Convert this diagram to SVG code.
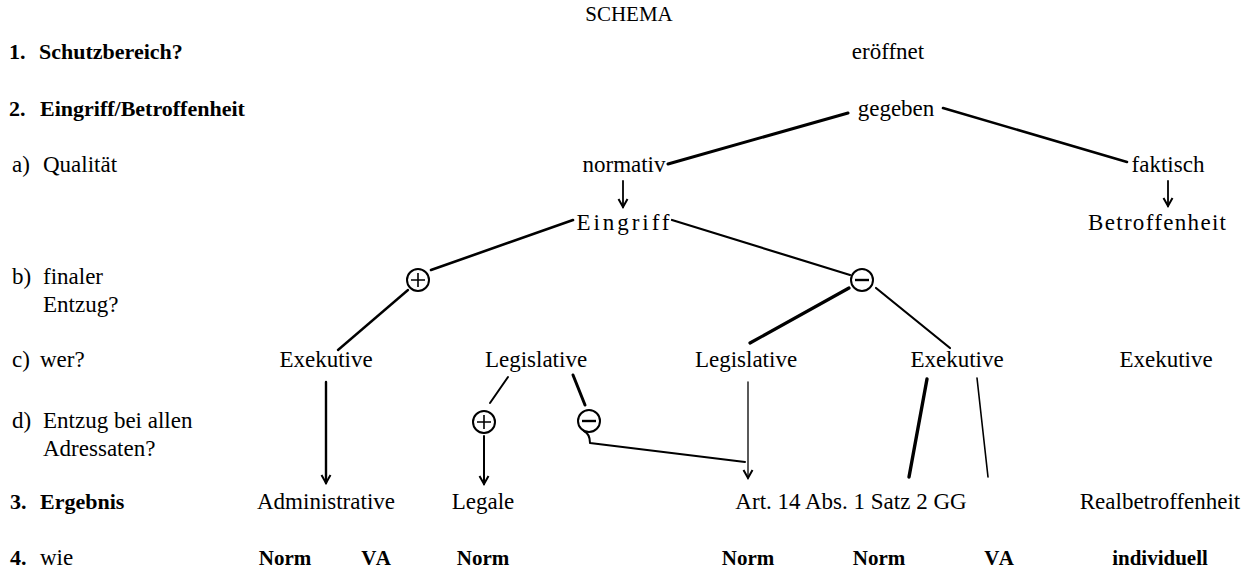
<svg xmlns="http://www.w3.org/2000/svg" width="1259" height="569" viewBox="0 0 1259 569">
<style>
text{font-family:"Liberation Serif","Times New Roman",serif;fill:#000;font-size:23px}
.b{font-weight:bold;font-size:22px}
.m{text-anchor:middle}
.w{font-weight:bold;font-size:21px}
.c{fill:#fff;stroke:#000;stroke-width:2}
.s{stroke:#000;stroke-width:1.6;fill:none}
#connectors path,#connectors line{stroke:#000;fill:none;stroke-linecap:round}
</style>
<defs>
<marker id="ah" viewBox="-10 -6 12 12" refX="0" refY="0" markerWidth="12" markerHeight="12" orient="auto" markerUnits="userSpaceOnUse">
<path d="M-8,-4.5 L0,0 L-8,4.5" fill="none" stroke="#000" stroke-width="2"/>
</marker>
</defs>
<rect width="1259" height="569" fill="#fff"/>
<g id="title"><text class="m" x="629" y="21" style="font-size:21px">SCHEMA</text></g>
<g id="labels">
<text class="b" x="9" y="59">1.</text><text class="b" x="39" y="59">Schutzbereich?</text>
<text class="b" x="9" y="116">2.</text><text class="b" x="40" y="116">Eingriff/Betroffenheit</text>
<text x="12" y="172">a)</text><text x="43" y="172">Qualität</text>
<text x="12" y="284">b)</text><text x="43" y="284">finaler</text>
<text x="43" y="312">Entzug?</text>
<text x="12" y="367">c)</text><text x="40" y="367">wer?</text>
<text x="12" y="428">d)</text><text x="43" y="428">Entzug bei allen</text>
<text x="43" y="456">Adressaten?</text>
<text class="b" x="10" y="509">3.</text><text class="b" x="40" y="509">Ergebnis</text>
<text class="b" x="10" y="565">4.</text><text x="40" y="565">wie</text>
</g>
<g id="connectors">
<line x1="848" y1="113" x2="668" y2="164" stroke-width="3"/>
<line x1="943" y1="108" x2="1127" y2="162" stroke-width="2.6"/>
<line x1="623" y1="181" x2="623" y2="207" stroke-width="1.8" marker-end="url(#ah)"/>
<line x1="1168" y1="181" x2="1168" y2="206" stroke-width="1.8" marker-end="url(#ah)"/>
<line x1="573" y1="220" x2="431" y2="270" stroke-width="2.6"/>
<line x1="672" y1="220" x2="850" y2="275" stroke-width="2.2"/>
<line x1="408" y1="290" x2="338" y2="350" stroke-width="2.4"/>
<line x1="849" y1="288" x2="750" y2="343" stroke-width="3.2"/>
<line x1="876" y1="288" x2="950" y2="348" stroke-width="2.2"/>
<line x1="326" y1="382" x2="326" y2="483" stroke-width="2.4" marker-end="url(#ah)"/>
<line x1="508" y1="377" x2="490" y2="403" stroke-width="2"/>
<line x1="573" y1="375" x2="585" y2="405" stroke-width="3"/>
<line x1="484" y1="436" x2="484" y2="484" stroke-width="2" marker-end="url(#ah)"/>
<path d="M584,431 Q590,434 590,443 M590,443 L745,462" stroke-width="2"/>
<line x1="748" y1="382" x2="748" y2="478" stroke-width="1.3" marker-end="url(#ah)"/>
<line x1="927" y1="379" x2="909" y2="477" stroke-width="3.4"/>
<line x1="977" y1="378" x2="988" y2="477" stroke-width="1.6"/>
</g>
<g id="n-eroeffnet"><text class="m" x="888" y="59">eröffnet</text></g>
<g id="n-gegeben"><text class="m" x="896" y="116">gegeben</text></g>
<g id="n-normativ"><text class="m" x="624" y="172">normativ</text></g>
<g id="n-faktisch"><text class="m" x="1168" y="172">faktisch</text></g>
<g id="n-eingriff"><text class="m" x="623" y="230" textLength="93" lengthAdjust="spacing">Eingriff</text></g>
<g id="n-betroffenheit"><text class="m" x="1157" y="230" textLength="138" lengthAdjust="spacing">Betroffenheit</text></g>
<g id="n-plus1"><circle class="c" cx="418" cy="280" r="11"/><path class="s" d="M411,280 H425 M418,273 V287"/></g>
<g id="n-minus1"><circle class="c" cx="862" cy="280" r="11"/><path class="s" d="M855,280 H869" style="stroke-width:2.4"/></g>
<g id="n-exek1"><text class="m" x="326" y="367">Exekutive</text></g>
<g id="n-legis1"><text class="m" x="536" y="367">Legislative</text></g>
<g id="n-legis2"><text class="m" x="746" y="367">Legislative</text></g>
<g id="n-exek2"><text class="m" x="957" y="367">Exekutive</text></g>
<g id="n-exek3"><text class="m" x="1166" y="367">Exekutive</text></g>
<g id="n-plus2"><circle class="c" cx="484" cy="422" r="11"/><path class="s" d="M477,422 H491 M484,415 V429"/></g>
<g id="n-minus2"><circle class="c" cx="589" cy="421" r="11"/><path class="s" d="M582,421 H596" style="stroke-width:2.4"/></g>
<g id="n-admin"><text class="m" x="326" y="509">Administrative</text></g>
<g id="n-legale"><text class="m" x="483" y="509">Legale</text></g>
<g id="n-art14"><text class="m" x="851" y="509">Art. 14 Abs. 1 Satz 2 GG</text></g>
<g id="n-realbetroffenheit"><text class="m" x="1160" y="509">Realbetroffenheit</text></g>
<g id="row4">
<text class="m w" x="285" y="565">Norm</text>
<text class="m w" x="377" y="565" letter-spacing="2">VA</text>
<text class="m w" x="483" y="565">Norm</text>
<text class="m w" x="748" y="565">Norm</text>
<text class="m w" x="879" y="565">Norm</text>
<text class="m w" x="1000" y="565" letter-spacing="2">VA</text>
<text class="m w" x="1160" y="565">individuell</text>
</g>
</svg>
